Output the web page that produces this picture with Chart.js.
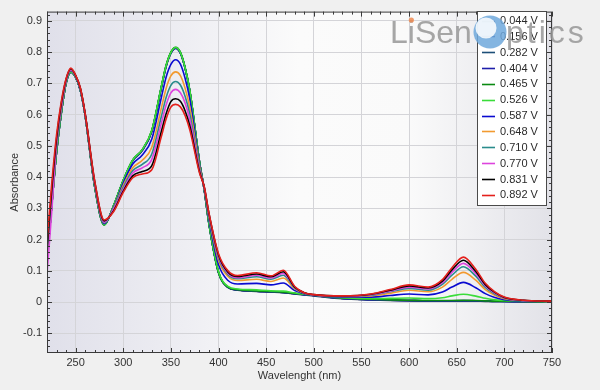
<!DOCTYPE html>
<html><head><meta charset="utf-8">
<script src="https://cdn.jsdelivr.net/npm/chart.js@4.4.1/dist/chart.umd.min.js"></script>
<style>html,body{margin:0;padding:0;background:#f0f0f0;}canvas{display:block}</style>
</head><body>
<canvas id="c" width="600" height="390"></canvas>
<script>
// ---------- data ----------
const wavelengths = [220,225,230,235,240,245,250,255,260,270,280,290,300,310,320,330,340,345,350,355,360,365,370,380,385,390,400,410,420,440,455,468,480,490,500,530,560,580,600,620,635,645,657,670,680,690,700,720,750];

const seriesLabels = ['0.044 V','0.156 V','0.282 V','0.404 V','0.465 V','0.526 V','0.587 V','0.648 V','0.710 V','0.770 V','0.831 V','0.892 V'];
const seriesColors = ['#2b3a5c','#1c2a80','#1d4f78','#1e1eaa','#0a8a12','#3adc3a','#0a0ad0','#f29a30','#2a8c8c','#dd44dd','#000000','#e4201c'];

const a044 = [.13,.31,.48,.605,.70,.736,.72,.678,.598,.371,.249,.309, .389,.453,.486,.547,.687,.755,.797,.813,.797,.748,.674,.45,.36, .25,.095,.047,.038,.034,.032,.030,.026,.023,.020,.011,.007,.005,.004,.003,.003,.003,.003,.003,.002,.002,.002,.001,.001];
const a156 = [.13,.31,.48,.605,.70,.736,.72,.678,.598,.371,.248,.309, .389,.454,.487,.548,.688,.756,.798,.814,.798,.749,.674,.45,.36, .25,.095,.047,.039,.035,.033,.031,.027,.024,.021,.012,.008,.006,.005,.004,.004,.004,.004,.004,.003,.002,.002,.001,.001];
const a282 = [.13,.31,.48,.605,.70,.736,.72,.678,.598,.371,.248,.309, .389,.454,.487,.548,.688,.756,.798,.814,.798,.749,.674,.45,.36, .25,.095,.047,.039,.035,.033,.031,.027,.024,.021,.012,.008,.006,.005,.004,.004,.004,.004,.004,.003,.002,.002,.001,.001];
const a404 = [.13,.31,.48,.605,.70,.737,.72,.678,.598,.371,.248,.309, .388,.452,.485,.546,.685,.753,.796,.812,.797,.748,.674,.45,.36, .251,.096,.047,.039,.035,.033,.031,.027,.024,.021,.012,.008,.006,.005,.004,.004,.004,.005,.004,.003,.003,.002,.002,.001];
const a465 = [.13,.31,.48,.605,.70,.737,.72,.678,.598,.37,.246,.31, .39,.455,.488,.55,.69,.758,.80,.816,.80,.75,.675,.45,.36, .25,.095,.048,.04,.036,.034,.032,.028,.025,.022,.013,.009,.007,.006,.005,.005,.005,.006,.005,.004,.003,.003,.002,.001];
const a526 = [.13,.31,.48,.605,.70,.737,.72,.678,.598,.37,.247,.31, .39,.455,.488,.55,.69,.757,.799,.815,.799,.749,.675,.45,.36, .252,.098,.05,.042,.039,.036,.035,.029,.025,.022,.014,.011,.012,.013,.011,.014,.02,.025,.019,.012,.007,.005,.003,.001];
const a587 = [.145,.33,.495,.615,.705,.741,.722,.68,.60,.376,.251,.304, .381,.442,.471,.522,.655,.72,.761,.776,.762,.716,.648,.442,.362, .264,.12,.069,.058,.06,.055,.061,.037,.027,.022,.016,.016,.021,.026,.023,.032,.048,.063,.046,.027,.015,.008,.004,.002];
const a648 = [.15,.34,.503,.62,.707,.742,.723,.682,.601,.379,.254,.301, .373,.43,.454,.496,.621,.684,.724,.737,.725,.684,.621,.435,.364, .273,.134,.082,.069,.073,.066,.077,.042,.028,.023,.018,.02,.028,.038,.033,.048,.073,.095,.07,.04,.022,.011,.005,.002];
const a710 = [.155,.35,.508,.625,.708,.744,.724,.682,.602,.381,.255,.299, .367,.421,.441,.474,.594,.655,.694,.706,.695,.658,.60,.428,.366, .277,.141,.088,.075,.081,.073,.086,.045,.029,.023,.018,.022,.033,.044,.038,.057,.086,.113,.083,.047,.026,.013,.005,.002];
const a770 = [.09,.29,.51,.625,.709,.744,.724,.683,.602,.382,.256,.298, .361,.413,.43,.457,.572,.631,.67,.681,.67,.637,.583,.423,.367, .28,.146,.092,.078,.086,.077,.092,.047,.029,.023,.019,.024,.035,.048,.042,.062,.095,.124,.091,.052,.029,.014,.005,.002];
const a831 = [.17,.36,.523,.635,.713,.747,.726,.685,.604,.387,.26,.293, .355,.404,.418,.437,.546,.603,.642,.651,.643,.612,.563,.418,.369, .283,.151,.096,.082,.09,.081,.097,.048,.03,.024,.02,.025,.038,.052,.045,.067,.103,.134,.098,.056,.031,.015,.006,.003];
const a892 = [.19,.38,.535,.642,.715,.749,.727,.686,.605,.39,.263,.29, .351,.398,.41,.424,.53,.586,.624,.633,.625,.597,.55,.414,.37, .285,.155,.10,.085,.094,.084,.102,.05,.03,.024,.02,.026,.04,.055,.048,.072,.11,.144,.105,.06,.033,.016,.006,.003];

const seriesValues = [a044,a156,a282,a404,a465,a526,a587,a648,a710,a770,a831,a892];

const xTickValues = [250,300,350,400,450,500,550,600,650,700,750];
const xTickLabels = ['250','300','350','400','450','500','550','600','650','700','750'];
const yTickValues = [-0.1,0,0.1,0.2,0.3,0.4,0.5,0.6,0.7,0.8,0.9];
const yTickLabels = ['-0.1','0','0.1','0.2','0.3','0.4','0.5','0.6','0.7','0.8','0.9'];

const xTitle = 'Wavelenght (nm)';
const yTitle = 'Absorbance';
// ------------------------------------------------------------

const FONT = 'Liberation Sans';
Chart.defaults.font.family = FONT;

const datasets = seriesValues.map((vals, i) => ({
  label: seriesLabels[i],
  data: wavelengths.map((w, j) => ({x: w, y: vals[j]})),
  borderColor: seriesColors[i],
  backgroundColor: seriesColors[i],
  borderWidth: 1.6,
  pointRadius: 0,
  fill: false,
  cubicInterpolationMode: 'monotone',
  order: seriesValues.length - 1 - i
}));

const bgPlugin = {
  id: 'bg',
  beforeDraw(chart) {
    const {ctx, chartArea: a} = chart;
    ctx.save();
    ctx.fillStyle = '#f0f0f0';
    ctx.fillRect(0, 0, chart.width, chart.height);
    const g = ctx.createLinearGradient(a.left, 0, a.right, 0);
    g.addColorStop(0, '#e0e0ea');
    g.addColorStop(0.22, '#ebebf1');
    g.addColorStop(0.5, '#fbfbfb');
    g.addColorStop(0.72, '#fafafa');
    g.addColorStop(1, '#e2e2e8');
    ctx.fillStyle = g;
    ctx.fillRect(a.left, a.top, a.right - a.left, a.bottom - a.top);
    ctx.restore();
  }
};

const frameTicks = {
  id: 'frameTicks',
  afterDatasetsDraw(chart) {
    const {ctx, chartArea: a, scales: {x, y}} = chart;
    ctx.save();
    ctx.strokeStyle = '#3a3a3a';
    ctx.lineWidth = 1;
    ctx.strokeRect(a.left + 0.5, a.top + 0.5, a.right - a.left - 1, a.bottom - a.top - 1);
    ctx.beginPath();
    for (let v = 220; v <= 750; v += 10) {
      const px = Math.round(x.getPixelForValue(v)) + 0.5;
      const len = (v % 50 === 0) ? 5 : 3;
      ctx.moveTo(px, a.bottom); ctx.lineTo(px, a.bottom - len);
      ctx.moveTo(px, a.top); ctx.lineTo(px, a.top + len);
    }
    for (let k = -8; k <= 46; k++) {
      const v = k * 0.02;
      if (v < y.min || v > y.max) continue;
      const py = Math.round(y.getPixelForValue(v)) + 0.5;
      const len = (k % 5 === 0) ? 5 : 3;
      ctx.moveTo(a.left, py); ctx.lineTo(a.left + len, py);
      ctx.moveTo(a.right, py); ctx.lineTo(a.right - len, py);
    }
    ctx.stroke();
    ctx.restore();
  }
};

const legendBox = {
  id: 'legendBox',
  afterDraw(chart) {
    const {ctx} = chart;
    const ds = chart.data.datasets;
    const left = 477, top = 11, w = 69, h = 194;
    ctx.save();
    ctx.fillStyle = '#ffffff';
    ctx.fillRect(left, top, w, h);
    ctx.strokeStyle = '#4a4a4a';
    ctx.lineWidth = 1;
    ctx.strokeRect(left + 0.5, top + 0.5, w, h);
    ctx.font = '11px "' + FONT + '"';
    ctx.textBaseline = 'middle';
    ctx.textAlign = 'left';
    ds.forEach((d, i) => {
      const yy = 20.5 + i * 15.85;
      ctx.strokeStyle = d.borderColor;
      ctx.lineWidth = 1.6;
      ctx.beginPath();
      ctx.moveTo(482, Math.round(yy) + 0.5);
      ctx.lineTo(495, Math.round(yy) + 0.5);
      ctx.stroke();
      ctx.fillStyle = '#2a2a2a';
      ctx.fillText(d.label, 500, yy + 0.5);
    });
    // watermark
    ctx.globalAlpha = 0.85;
    ctx.font = '32px "' + FONT + '"';
    ctx.textBaseline = 'alphabetic';
    ctx.fillStyle = '#969696';
    ctx.fillText('LiSen', 390, 43);
    const lw = ctx.measureText('L').width, iw = ctx.measureText('i').width;
    ctx.fillStyle = '#ef8a50';
    ctx.beginPath(); ctx.arc(390 + lw + iw / 2, 20, 2.6, 0, Math.PI * 2); ctx.fill();
    ctx.fillStyle = '#6ea8dc';
    ctx.beginPath(); ctx.arc(490, 32, 16.5, 0, Math.PI * 2); ctx.fill();
    ctx.fillStyle = '#ffffff';
    ctx.beginPath(); ctx.arc(486, 28, 10.5, 0, Math.PI * 2); ctx.fill();
    ctx.fillStyle = '#969696';
    try { ctx.letterSpacing = '3px'; } catch (e) {}
    ctx.fillText('ptics', 506, 43);
    ctx.restore();
  }
};

new Chart(document.getElementById('c'), {
  type: 'line',
  data: {datasets},
  plugins: [bgPlugin, frameTicks, legendBox],
  options: {
    responsive: false,
    devicePixelRatio: 1,
    animation: false,
    layout: {padding: {left: 0, top: 5, right: 48, bottom: 0}},
    plugins: {legend: {display: false}, tooltip: {enabled: false}},
    scales: {
      x: {
        type: 'linear', min: 220, max: 750,
        afterBuildTicks: s => { s.ticks = xTickValues.map(v => ({value: v})); },
        afterFit: s => { s.height = 37; },
        ticks: {
          color: '#333', padding: 3, maxRotation: 0, autoSkip: false,
          font: {family: FONT, size: 11},
          callback: v => xTickLabels[xTickValues.indexOf(v)]
        },
        grid: {color: '#d4d4d8', lineWidth: 1, drawTicks: false},
        border: {display: false},
        title: {display: true, text: xTitle, color: '#333', font: {family: FONT, size: 11}, padding: {top: 0, bottom: 7}}
      },
      y: {
        type: 'linear', min: -0.163, max: 0.93,
        afterBuildTicks: s => { s.ticks = yTickValues.map(v => ({value: v})); },
        afterFit: s => { s.width = 47; },
        ticks: {
          color: '#333', padding: 5,
          font: {family: FONT, size: 11},
          callback: v => yTickLabels[yTickValues.findIndex(t => Math.abs(t - v) < 1e-9)]
        },
        grid: {color: '#d4d4d8', lineWidth: 1, drawTicks: false},
        border: {display: false},
        title: {display: true, text: yTitle, color: '#333', font: {family: FONT, size: 11}, padding: {top: 8, bottom: 0}}
      }
    }
  }
});
</script>
</body></html>
